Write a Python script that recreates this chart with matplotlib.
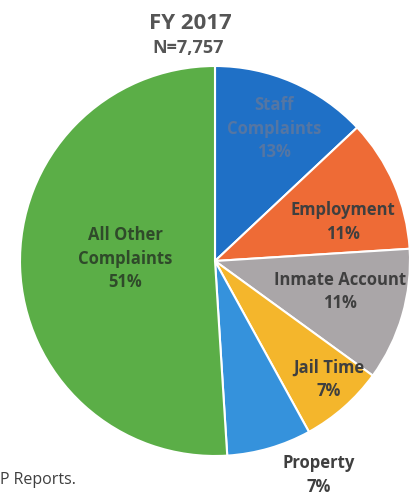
import matplotlib.pyplot as plt

categories = ["Staff\nComplaints", "Employment", "Inmate Account", "Jail Time", "Property", "All Other\nComplaints"]
shares = [13, 11, 11, 7, 7, 51]
colors = ["#1f70c6", "#ee6b36", "#aaa6a8", "#f4b62c", "#3592dc", "#5bae47"]

W, H = 409, 494
fig = plt.figure(figsize=(W / 100, H / 100), dpi=100)
ax = fig.add_axes([0, 0, 1, 1])

cx, cy, r = 215, H - 261, 195
wedges, _ = ax.pie(shares, colors=colors, startangle=90, counterclock=False,
                   center=(cx, cy), radius=r,
                   wedgeprops=dict(edgecolor="white", linewidth=1.5))
ax.set_xlim(0, W)
ax.set_ylim(0, H)
ax.set_aspect("equal")
ax.axis("off")

font = "Open Sans"
txt = "#3f3f3f"

def label(x, y, s, color=txt, size=12, step=23.5):
    # one text per line, y is pixel row of first line in the original image
    for i, line in enumerate(s.split("\n")):
        ax.text(x, H - (y + i * step), line, ha="center", va="center",
                fontsize=size, fontweight="bold", color=color, family=font)

label(274, 105, categories[0] + "\n" + f"{shares[0]}%", color="#5576a3")
label(343, 210, categories[1] + "\n" + f"{shares[1]}%")
label(340, 280, categories[2] + "\n" + f"{shares[2]}%")
label(329, 368, categories[3] + "\n" + f"{shares[3]}%")
label(319, 463, categories[4] + "\n" + f"{shares[4]}%")
label(125, 235, categories[5] + "\n" + f"{shares[5]}%", color="#2f4a2a")

ax.text(190, H - 23, "FY 2017", ha="center", va="center", fontsize=16,
        fontweight="bold", color="#555555", family=font)
ax.text(188, H - 48, "N=7,757", ha="center", va="center", fontsize=13,
        fontweight="bold", color="#555555", family=font)
ax.text(0, H - 480, "P Reports.", ha="left", va="center", fontsize=11.5,
        color="#3f3f3f", family=font)

fig.savefig("out.png", dpi=100)
